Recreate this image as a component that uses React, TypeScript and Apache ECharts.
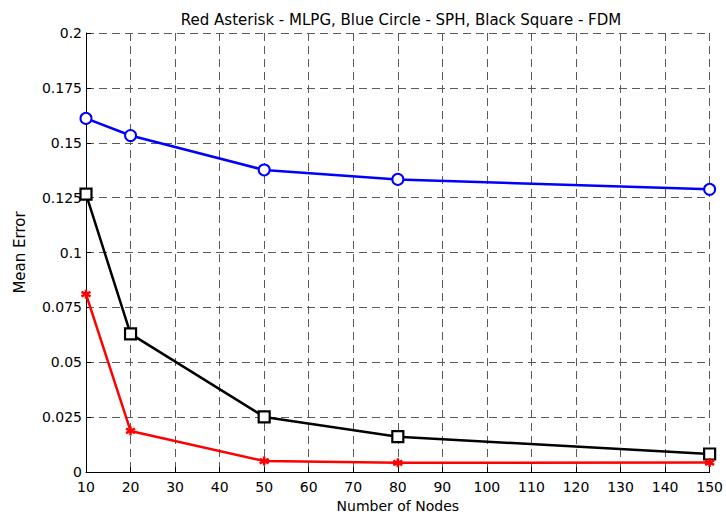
import React, { useEffect, useRef } from "react";
import * as echarts from "echarts";

const nodes = [10, 20, 50, 80, 150];
const mlpg = [0.081, 0.0187, 0.005, 0.0042, 0.0043];
const sph = [0.1611, 0.1533, 0.1376, 0.1333, 0.1288];
const fdm = [0.1266, 0.0629, 0.0251, 0.0161, 0.0082];

const titleText = "Red Asterisk - MLPG, Blue Circle - SPH, Black Square - FDM";
const xName = "Number of Nodes";
const yName = "Mean Error";

const asterisk =
  "path://M0,-1L0,1M-0.87,-0.5L0.87,0.5M-0.87,0.5L0.87,-0.5M0,-1Z";

const font = "'DejaVu Sans', 'Liberation Sans', Arial, sans-serif";

export default function App() {
  const ref = useRef<HTMLDivElement>(null);
  useEffect(() => {
    const chart = echarts.init(ref.current!, null, { renderer: "svg" });
    const pair = (ys: number[]) => nodes.map((x, i) => [x, ys[i]]);
    const grid = {
      show: true,
      type: [8, 5] as any,
      color: "#5a5a5a",
      width: 1,
    };
    chart.setOption({
      animation: false,
      backgroundColor: "#fff",
      title: {
        text: titleText,
        left: 396,
        textAlign: "center",
        top: 7,
        textStyle: { fontFamily: font, fontSize: 15, fontWeight: "normal", color: "#000" },
      },
      grid: { left: 86, right: 16, top: 33, bottom: 46 },
      xAxis: {
        type: "value",
        min: 10,
        max: 150,
        interval: 10,
        name: xName,
        nameLocation: "middle",
        nameGap: 27,
        nameTextStyle: { fontFamily: font, fontSize: 14, color: "#000" },
        axisLine: { show: true, onZero: false, lineStyle: { color: "#000", width: 1 } },
        axisTick: { show: true, inside: true, length: 5, lineStyle: { color: "#000" } },
        axisLabel: { fontFamily: font, fontSize: 14, color: "#000", margin: 8 },
        splitLine: { show: true, lineStyle: grid },
      },
      yAxis: {
        type: "value",
        min: 0,
        max: 0.2,
        interval: 0.025,
        name: yName,
        nameLocation: "middle",
        nameGap: 59,
        nameTextStyle: { fontFamily: font, fontSize: 15, color: "#000" },
        axisLine: { show: true, lineStyle: { color: "#000", width: 1 } },
        axisTick: { show: true, inside: true, length: 5, lineStyle: { color: "#000" } },
        axisLabel: { fontFamily: font, fontSize: 14, color: "#000", margin: 4 },
        splitLine: { show: true, lineStyle: grid },
      },
      series: [
        {
          name: "SPH",
          type: "line",
          data: pair(sph),
          symbol: "emptyCircle",
          symbolSize: 11,
          lineStyle: { color: "#0000ff", width: 2.5 },
          itemStyle: { color: "#0000ff", borderColor: "#0000ff", borderWidth: 2.2 },
        },
        {
          name: "FDM",
          type: "line",
          data: pair(fdm),
          symbol: "rect",
          symbolSize: 11,
          lineStyle: { color: "#000", width: 2.5 },
          itemStyle: { color: "#fff", borderColor: "#000", borderWidth: 2.2 },
        },
        {
          name: "MLPG",
          type: "line",
          data: pair(mlpg),
          symbol: asterisk,
          symbolSize: 9,
          lineStyle: { color: "#ff0000", width: 2.5 },
          itemStyle: { color: "#ff0000", borderColor: "#ff0000", borderWidth: 2.5 },
        },
      ],
    });
    return () => chart.dispose();
  }, []);
  return <div ref={ref} style={{ width: 726, height: 518, position: "absolute", left: 0, top: 0 }} />;
}
